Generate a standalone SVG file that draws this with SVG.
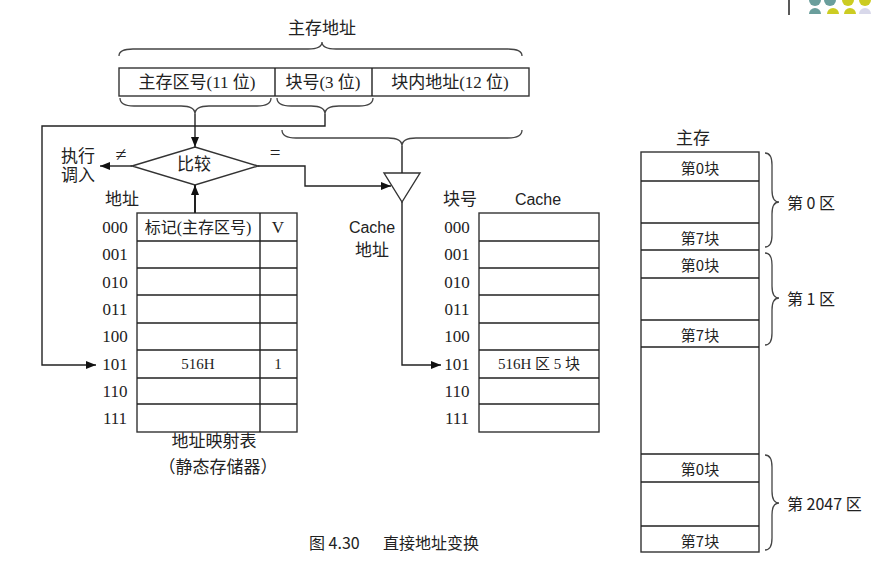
<svg xmlns="http://www.w3.org/2000/svg" width="881" height="573" viewBox="0 0 881 573">
<defs>
<style>
.ln{fill:none;stroke:#222;stroke-width:1.4}
.bx{fill:#fff;stroke:#333;stroke-width:1.4}
.br{fill:none;stroke:#444;stroke-width:1.3}
.cj{font-family:"Liberation Serif","Noto Sans CJK SC",serif;font-size:17px;fill:#222;text-anchor:middle;dominant-baseline:central}
.cs{font-family:"Noto Sans CJK SC","Liberation Sans",sans-serif;font-size:15px;fill:#222;text-anchor:middle;dominant-baseline:central}
.lt{font-family:"Liberation Sans","Noto Sans CJK SC",sans-serif;font-size:16px;fill:#222;text-anchor:middle;dominant-baseline:central}
.num{font-family:"Liberation Serif",serif;font-size:17px;fill:#222;text-anchor:middle;dominant-baseline:central}
</style>
<marker id="ah" viewBox="0 0 10 8" refX="10" refY="4" markerWidth="10" markerHeight="8" markerUnits="userSpaceOnUse" orient="auto">
<path d="M0,0 L10,4 L0,8 Z" fill="#111"/>
</marker>
</defs>
<rect width="881" height="573" fill="#fff"/>

<g id="decor">
<line x1="789" y1="0" x2="789" y2="15" stroke="#222" stroke-width="1.5"/>
<path d="M809,0 A6,6 0 0 0 821,0 Z" fill="#6a9e9c"/>
<path d="M824,0 A6,6 0 0 0 836,0 Z" fill="#6a9e9c"/>
<path d="M842,0 A6,6 0 0 0 854,0 Z" fill="#cccc22"/>
<path d="M859,0 A6,6 0 0 0 871,0 Z" fill="#cccc22"/>
<path d="M809,14 A6,6 0 0 1 821,14 Z" fill="#6a9e9c"/>
<path d="M827,14 A6,6 0 0 1 839,14 Z" fill="#cccc22"/>
<path d="M844,14 A6,6 0 0 1 856,14 Z" fill="#cccc22"/>
<path d="M859,14 A6,6 0 0 1 871,14 Z" fill="#d8d8ea"/>
</g>

<g id="title">
<text class="cj" x="322" y="28">主存地址</text>
<path class="br" d="M119,56 Q119,49 133,49 L308,49 Q322,49 322,42 Q322,49 336,49 L508,49 Q522,49 522,56"/>
</g>

<g id="address">
<rect class="bx" x="119" y="68" width="410" height="28"/>
<line class="ln" x1="275" y1="68" x2="275" y2="96"/>
<line class="ln" x1="372" y1="68" x2="372" y2="96"/>
<text class="cj" x="197" y="82">主存区号(11 位)</text>
<text class="cj" x="323" y="82">块号(3 位)</text>
<text class="cj" x="450" y="82">块内地址(12 位)</text>
<path class="br" d="M120,98 Q120,106 134,106 L181,106 Q195,106 195,114 Q195,106 209,106 L257,106 Q271,106 271,98"/>
<path class="br" d="M277,98 Q277,106 291,106 L311,106 Q325,106 325,114 Q325,106 339,106 L359,106 Q373,106 373,98"/>
<path class="br" d="M282,130 Q282,138 296,138 L388,138 Q402,138 402,146 Q402,138 416,138 L508,138 Q522,138 522,130"/>
</g>

<g id="compare">
<polygon class="bx" points="132,166 195,147 258,166 195,185"/>
<text class="cj" x="194" y="164">比较</text>
</g>

<g id="mux">
<polygon class="bx" points="384,173 420,173 402,202"/>
</g>

<g id="labels">
<text class="cj" x="78" y="156">执行</text>
<text class="cj" x="78" y="175">调入</text>
<text class="cj" x="121" y="154" style="font-size:20px">≠</text>
<text class="cj" x="275" y="152" style="font-size:19px">=</text>
<text class="lt" x="372" y="227">Cache</text>
<text class="cj" x="372" y="250">地址</text>
</g>

<g id="maptable">
<text class="cj" x="122" y="199">地址</text>
<rect class="bx" x="137" y="213" width="160" height="219"/>
<line class="ln" x1="260" y1="213" x2="260" y2="432"/>
<path class="ln" d="M137,241H297M137,268H297M137,295H297M137,323H297M137,350H297M137,378H297M137,404H297"/>
<text class="cj" x="198" y="227" style="font-size:16px">标记(主存区号)</text>
<text class="num" x="278" y="227">V</text>
<text class="num" x="198" y="364" style="font-size:15px">516H</text>
<text class="num" x="278" y="364" style="font-size:15px">1</text>
<text class="num" x="115" y="227">000</text>
<text class="num" x="115" y="254">001</text>
<text class="num" x="115" y="282">010</text>
<text class="num" x="115" y="309">011</text>
<text class="num" x="115" y="336">100</text>
<text class="num" x="115" y="364">101</text>
<text class="num" x="115" y="391">110</text>
<text class="num" x="115" y="418">111</text>
<text class="cj" x="214" y="441">地址映射表</text>
<text class="cj" x="218" y="467">（静态存储器）</text>
</g>

<g id="cache">
<text class="cj" x="460" y="199">块号</text>
<text class="lt" x="538" y="199">Cache</text>
<rect class="bx" x="479" y="213" width="120" height="219"/>
<path class="ln" d="M479,241H599M479,268H599M479,295H599M479,323H599M479,350H599M479,378H599M479,404H599"/>
<text class="cj" x="539" y="364" style="font-size:15px">516H 区 5 块</text>
<text class="num" x="457" y="227">000</text>
<text class="num" x="457" y="254">001</text>
<text class="num" x="457" y="282">010</text>
<text class="num" x="457" y="309">011</text>
<text class="num" x="457" y="336">100</text>
<text class="num" x="457" y="364">101</text>
<text class="num" x="457" y="391">110</text>
<text class="num" x="457" y="418">111</text>
</g>

<g id="mainmem">
<text class="cj" x="693" y="138">主存</text>
<rect class="bx" x="641" y="152" width="118" height="400"/>
<path class="ln" d="M641,181H759M641,223H759M641,250H759M641,278H759M641,320H759M641,347H759M641,454H759M641,482H759M641,526H759"/>
<text class="cs" x="700" y="167">第0块</text>
<text class="cs" x="700" y="237">第7块</text>
<text class="cs" x="700" y="264">第0块</text>
<text class="cs" x="700" y="334">第7块</text>
<text class="cs" x="700" y="468">第0块</text>
<text class="cs" x="700" y="540">第7块</text>
<path class="br" d="M765,153 Q772,153 772,165 L772,190 Q772,202 779,202 Q772,202 772,214 L772,235 Q772,247 765,247"/>
<path class="br" d="M765,253 Q772,253 772,265 L772,286 Q772,298 779,298 Q772,298 772,310 L772,333 Q772,345 765,345"/>
<path class="br" d="M765,455 Q772,455 772,467 L772,491 Q772,503 779,503 Q772,503 772,515 L772,538 Q772,550 765,550"/>
<text class="cs" x="787" y="202" style="text-anchor:start;font-size:16px">第 0 区</text>
<text class="cs" x="787" y="298" style="text-anchor:start;font-size:16px">第 1 区</text>
<text class="cs" x="787" y="503" style="text-anchor:start;font-size:16px">第 2047 区</text>
</g>

<g id="caption">
<text class="cs" x="309" y="542" style="text-anchor:start;font-size:16px">图 4.30</text>
<text class="cs" x="383" y="542" style="text-anchor:start;font-size:16px">直接地址变换</text>
</g>

<g id="connectors">
<line class="ln" x1="195" y1="114" x2="195" y2="147" marker-end="url(#ah)"/>
<polyline class="ln" points="325,114 325,126 42,126 42,365 96,365" marker-end="url(#ah)"/>
<line class="ln" x1="402" y1="146" x2="402" y2="173"/>
<line class="ln" x1="132" y1="166" x2="100" y2="166" marker-end="url(#ah)"/>
<polyline class="ln" points="258,166 305,166 305,186 391,186" marker-end="url(#ah)"/>
<line class="ln" x1="195" y1="213" x2="195" y2="185" marker-end="url(#ah)" style="stroke-width:2"/>
<polyline class="ln" points="402,202 402,365 441,365" marker-end="url(#ah)"/>
</g>
</svg>
